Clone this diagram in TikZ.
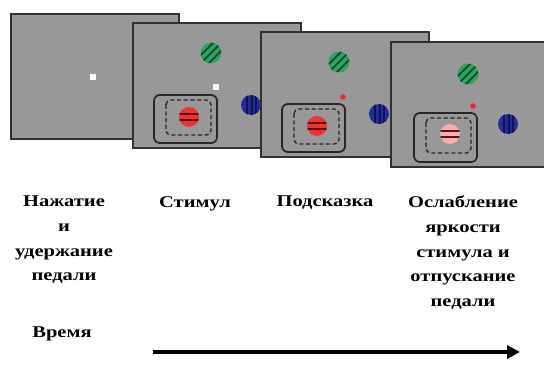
\documentclass[tikz,border=0pt]{standalone}
\usepackage{fontspec}
\setmainfont{Liberation Serif}[FakeStretch=1.25]
\usetikzlibrary{arrows.meta}

% Define the colors
\definecolor{screengray}{RGB}{152, 152, 152}
\definecolor{framegray}{RGB}{50, 50, 50}
\definecolor{patchgreen}{RGB}{40, 165, 95}
\definecolor{stripegreen}{RGB}{20, 65, 40}
\definecolor{patchblue}{RGB}{35, 45, 160}
\definecolor{stripeblue}{RGB}{15, 20, 70}
\definecolor{patchred}{RGB}{240, 50, 50}
\definecolor{stripered}{RGB}{85, 20, 20}
\definecolor{patchpink}{RGB}{245, 175, 175}
\definecolor{cuered}{RGB}{235, 40, 40}

\tikzset{
  screen/.style={fill=screengray, draw=framegray, line width=1.7pt},
  cuebox/.style={draw=black!85, line width=1.5pt, rounded corners=5pt},
  cuedash/.style={draw=black!85, line width=1.1pt, dash pattern=on 3.5pt off 2.2pt, rounded corners=4pt},
  stripe/.style={line width=1.4pt},
  steplabel/.style={font=\bfseries\fontsize{14}{21}\selectfont, align=center, anchor=north, inner sep=0pt},
  timearrow/.style={line width=3.4pt, -{Triangle[length=11pt, width=11pt]}},
  pics/greenpatch/.style={code={
    \fill[patchgreen] (0,0) circle[radius=10.5];
    \begin{scope}
      \clip (0,0) circle[radius=10.5];
      \foreach \d in {-8,0,8} \draw[stripe, stripegreen] (-12+\d,12) -- (12+\d,-12);
    \end{scope}}},
  pics/bluepatch/.style={code={
    \fill[patchblue] (0,0) circle[radius=10];
    \begin{scope}
      \clip (0,0) circle[radius=10];
      \foreach \d in {-4,1,5} \draw[stripe, stripeblue] (\d,-11) -- (\d,11);
    \end{scope}}},
  pics/redpatch/.style={code={
    \fill[#1] (0,0) circle[radius=10];
    \begin{scope}
      \clip (0,0) circle[radius=10];
      \foreach \d in {-3,3} \draw[stripe, stripered] (-11,\d) -- (11,\d);
    \end{scope}}}
}

\begin{document}
\begin{tikzpicture}[x=0.03cm, y=-0.03cm]
  \useasboundingbox (0,0) rectangle (544,364);
  \clip (0,0) rectangle (544,364);

  % Screen 1: press and hold
  \begin{scope}[shift={(11,14)}]
    \filldraw[screen] (0,0) rectangle (168,125);
    \fill[white] (79,60) rectangle (85,66);
  \end{scope}

  % Screen 2: stimulus
  \begin{scope}[shift={(133,23)}]
    \filldraw[screen] (0,0) rectangle (168,125);
    \pic at (78,30) {greenpatch};
    \fill[white] (80,61) rectangle (86,67);
    \pic at (118,82) {bluepatch};
    \draw[cuebox] (21,72) rectangle (84,120);
    \draw[cuedash] (33,77) rectangle (78,112);
    \pic at (56,94) {redpatch=patchred};
  \end{scope}

  % Screen 3: cue
  \begin{scope}[shift={(261,32)}]
    \filldraw[screen] (0,0) rectangle (168,125);
    \pic at (78,30) {greenpatch};
    \fill[cuered] (82,65) circle[radius=2.8];
    \pic at (118,82) {bluepatch};
    \draw[cuebox] (21,72) rectangle (84,120);
    \draw[cuedash] (33,77) rectangle (78,112);
    \pic at (56,94) {redpatch=patchred};
  \end{scope}

  % Screen 4: dimming and release
  \begin{scope}[shift={(391,42)}]
    \filldraw[screen] (0,0) rectangle (180,125);
    \pic at (77,32) {greenpatch};
    \fill[cuered] (82,64) circle[radius=2.8];
    \pic at (117,82) {bluepatch};
    \draw[cuebox] (23,71) rectangle (86,120);
    \draw[cuedash] (35,76) rectangle (80,111);
    \pic at (59,92) {redpatch=patchpink};
  \end{scope}

  % Labels under the screens
  \node[steplabel] (press) at (64,196) {Нажатие\\и\\удержание\\педали};
  \node[steplabel] (stim) at (195,196) {Стимул};
  \node[steplabel] (cue) at (325,196) {Подсказка};
  \node[steplabel] (dim) at (463,196) {Ослабление\\яркости\\стимула и\\отпускание\\педали};

  % Time axis
  \node[steplabel, anchor=center] (time) at (62,334) {Время};
  \coordinate (tstart) at (153,352);
  \coordinate (tend) at (520,352);
  \draw[timearrow] (tstart) -- (tend);
\end{tikzpicture}
\end{document}
